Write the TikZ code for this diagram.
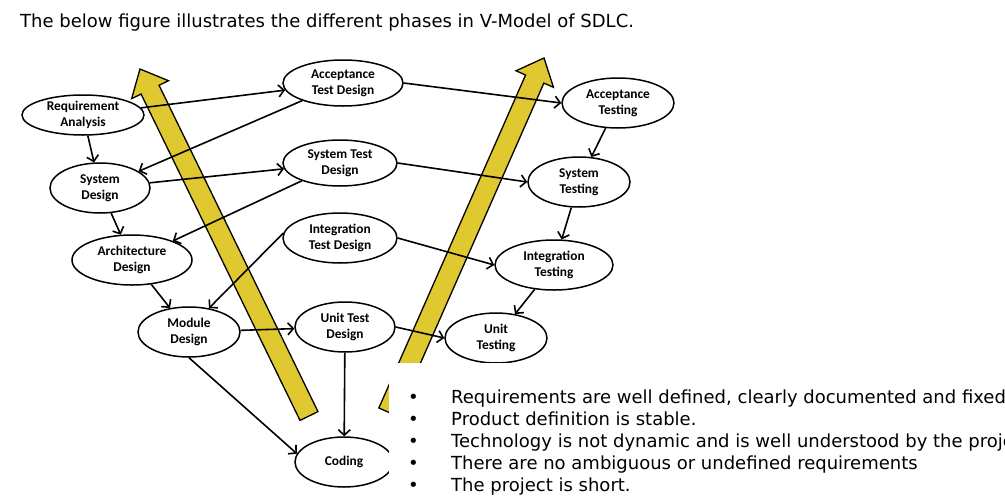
\documentclass[tikz,border=0pt]{standalone}
\usepackage{fontspec}
\setmainfont{DejaVu Sans}
\newfontfamily\phasefont{Carlito}
\usetikzlibrary{shapes.geometric,arrows.meta,calc,backgrounds}
\definecolor{trackyellow}{RGB}{224,200,48}
\tikzset{
  phase/.style={ellipse,draw,line width=1.5pt,fill=white,align=center,inner sep=0pt,
    font=\phasefont\bfseries\fontsize{13.4}{16}\selectfont},
  link/.style={-{Straight Barb[length=5.5pt,width=12pt]},line width=1.6pt},
  track/.style={fill=trackyellow,draw=black,line width=1.3pt,line join=miter},
  bullettext/.style={anchor=base west,inner sep=0pt,font=\fontsize{18}{22}\selectfont}
}
% big yellow arrow from tail #1 to tip #2
\newcommand\yellowtrack[2]{%
  \coordinate (hb) at ($(#2)!23pt!(#1)$);
  \draw[track] ($(#1)!10pt!90:(#2)$) -- ($(hb)!10pt!90:(#2)$) -- ($(hb)!20.5pt!90:(#2)$)
    -- (#2) -- ($(hb)!20.5pt!-90:(#2)$) -- ($(hb)!10pt!-90:(#2)$) -- ($(#1)!10pt!-90:(#2)$) -- cycle;
}
\begin{document}
\begin{tikzpicture}
[x=1pt,y=-1pt]
\useasboundingbox (0,0) rectangle (1005,496);
\clip (0,0) rectangle (1005,496);

\node[anchor=base west,inner sep=0pt,font=\fontsize{18}{22}\selectfont] (title) at (20,27)
  {The below figure illustrates the different phases in V-Model of SDLC.};

% left branch
\node[phase,minimum width=122pt,minimum height=40pt] (reqana) at (83,115) {Requirement\\Analysis};
\node[phase,minimum width=100pt,minimum height=50pt] (sysdes) at (100,188) {System\\Design};
\node[phase,minimum width=120pt,minimum height=50pt] (archdes) at (132,260) {Architecture\\Design};
\node[phase,minimum width=102pt,minimum height=50pt] (moddes) at (189,332) {Module\\Design};
\node[phase,minimum width=98pt,minimum height=50pt] (coding) at (344,462) {Coding};

% test design column
\node[phase,minimum width=120pt,minimum height=46pt] (acctd) at (343,83) {Acceptance\\Test Design};
\node[phase,minimum width=114pt,minimum height=46pt] (systd) at (340,163) {System Test\\Design};
\node[phase,minimum width=114pt,minimum height=50pt] (inttd) at (340,238) {Integration\\Test Design};
\node[phase,minimum width=100pt,minimum height=50pt] (utd) at (345,327) {Unit Test\\Design};

% right branch
\node[phase,minimum width=112pt,minimum height=50pt] (acct) at (618,103) {Acceptance\\Testing};
\node[phase,minimum width=102pt,minimum height=50pt] (syst) at (579,182) {System\\Testing};
\node[phase,minimum width=118pt,minimum height=50pt] (intt) at (554,265) {Integration\\Testing};
\node[phase,minimum width=102pt,minimum height=50pt] (ut) at (496,338) {Unit\\Testing};

% connectors
\draw[link] (reqana) -- (sysdes);
\draw[link] (sysdes) -- (archdes);
\draw[link] (archdes) -- (moddes);
\draw[link] (moddes.south) -- (coding.170);
\draw[link] (reqana) -- (acctd);
\draw[link] (acctd) -- (sysdes);
\draw[link] (sysdes) -- (systd);
\draw[link] (systd) -- (archdes);
\draw[link] (inttd.175) -- (moddes.50);
\draw[link] (moddes) -- (utd);
\draw[link] (utd) -- (coding);
\draw[link] (acctd.east) -- (acct.west);
\draw[link] (systd.east) -- (syst.west);
\draw[link] (inttd.east) -- (intt.west);
\draw[link] (utd.east) -- (ut.west);
\draw[link] (acct) -- (syst);
\draw[link] (syst) -- (intt);
\draw[link] (intt) -- (ut);

\begin{pgfonlayer}{background}
\coordinate (ltail) at (309,416);
\coordinate (ltip) at (140,69);
\coordinate (rtail) at (388,412);
\coordinate (rtip) at (544,58);
\yellowtrack{ltail}{ltip}
\yellowtrack{rtail}{rtip}
\end{pgfonlayer}

% pasted list box
\fill[white] (389,363) rectangle (1005,496);
\foreach \i/\txt in {0/{Requirements are well defined, clearly documented and fixed},
  1/{Product definition is stable.},
  2/{Technology is not dynamic and is well understood by the project},
  3/{There are no ambiguous or undefined requirements},
  4/{The project is short.}}{
  \node[bullettext] (dot\i) at (408,403+22*\i) {\textbullet};
  \node[bullettext] (item\i) at (451,403+22*\i) {\txt};
}
\end{tikzpicture}
\end{document}
